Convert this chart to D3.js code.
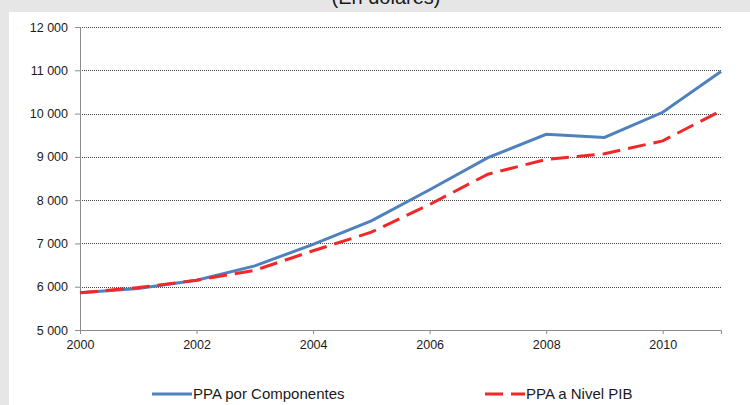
<!DOCTYPE html>
<html>
<head>
<meta charset="utf-8">
<script src="https://d3js.org/d3.v7.min.js"></script>
<style>
  body { margin: 0; background: #e6e6e6; }
  text { font-family: Arial, "Liberation Sans", sans-serif; fill: #1a1a1a; }
</style>
</head>
<body>
<div id="chart"></div>
<script>
// datos
var years = [2000, 2001, 2002, 2003, 2004, 2005, 2006, 2007, 2008, 2009, 2010, 2011]
var componentes = [5860, 5960, 6150, 6480, 6980, 7520, 8240, 8980, 9520, 9450, 10030, 10970]
var nivelPIB = [5860, 5980, 6150, 6380, 6830, 7260, 7900, 8600, 8940, 9070, 9370, 10065]
var yTicks = [5000, 6000, 7000, 8000, 9000, 10000, 11000, 12000]
var xTicks = [2000, 2002, 2004, 2006, 2008, 2010]

var W = 750, H = 405
var margin = { top: 27, right: 29, bottom: 75, left: 80 },
  width = W - margin.left - margin.right,
  height = H - margin.top - margin.bottom

var root = d3.select("#chart").append("svg")
  .attr("width", W)
  .attr("height", H)

// fondo
root.append("rect").attr("width", W).attr("height", H).attr("fill", "#e6e6e6")
root.append("rect").attr("x", 9).attr("y", 12).attr("width", W - 9).attr("height", H - 12).attr("fill", "#ffffff")

// titulo (cortado arriba)
root.append("text")
  .attr("x", 386).attr("y", 4)
  .attr("text-anchor", "middle")
  .style("font-size", "20px")
  .text("(En dólares)")

var svg = root.append("g")
  .attr("transform", "translate(" + margin.left + "," + margin.top + ")")

var x = d3.scaleLinear().domain([2000, 2011]).range([0, width])
var y = d3.scaleLinear().domain([5000, 12000]).range([height, 0])

var fmt = function(v) { return d3.format(",")(v).replace(/,/g, " ") }

// lineas de cuadricula
svg.selectAll(".grid")
  .data(yTicks.filter(function(d) { return d > 5000 }))
  .enter()
  .append("line")
  .attr("x1", 0).attr("x2", width)
  .attr("y1", function(d) { return Math.round(y(d)) + 0.5 })
  .attr("y2", function(d) { return Math.round(y(d)) + 0.5 })
  .attr("stroke", "#444")
  .attr("stroke-width", 1)
  .attr("stroke-dasharray", "1,1")

// ejes
var yAxis = svg.append("g")
  .call(d3.axisLeft(y).tickValues(yTicks).tickFormat(fmt).tickSize(5).tickPadding(7))
var xAxis = svg.append("g")
  .attr("transform", "translate(0," + height + ")")
  .call(d3.axisBottom(x).tickValues(xTicks).tickFormat(d3.format("d")).tickSize(4).tickPadding(6))

;[yAxis, xAxis].forEach(function(a) {
  a.select(".domain").attr("stroke", "#8c8c8c")
  a.selectAll(".tick line").attr("stroke", "#8c8c8c")
  a.selectAll("text").style("font-size", "12.5px").attr("fill", "#1a1a1a")
})

// series
var line = d3.line()
  .x(function(d, i) { return x(years[i]) })
  .y(function(d) { return y(d) })

svg.append("path")
  .datum(componentes)
  .attr("fill", "none")
  .attr("stroke", "#4f81bd")
  .attr("stroke-width", 3)
  .attr("d", line)

svg.append("path")
  .datum(nivelPIB)
  .attr("fill", "none")
  .attr("stroke", "#f02828")
  .attr("stroke-width", 3)
  .attr("stroke-dasharray", "18,8")
  .attr("d", line)

// leyenda
var legend = [
  { name: "PPA por Componentes", color: "#4f81bd", dash: null, x: 152 },
  { name: "PPA a Nivel PIB", color: "#f02828", dash: "18,8", x: 485 }
]
legend.forEach(function(l) {
  root.append("line")
    .attr("x1", l.x).attr("x2", l.x + 40)
    .attr("y1", 394).attr("y2", 394)
    .attr("stroke", l.color)
    .attr("stroke-width", 3)
    .attr("stroke-dasharray", l.dash)
  root.append("text")
    .attr("x", l.x + 41).attr("y", 399)
    .style("font-size", "15px")
    .text(l.name)
})
</script>
</body>
</html>
